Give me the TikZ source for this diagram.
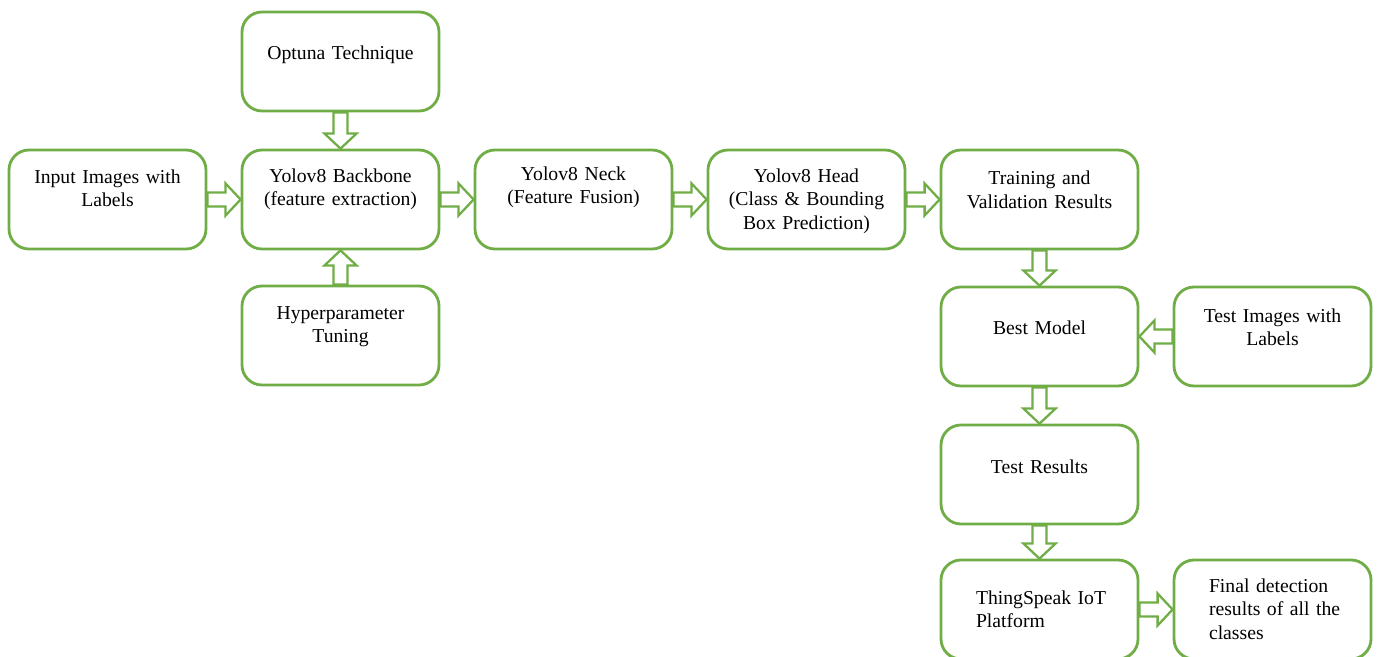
\documentclass[tikz,border=0pt]{standalone}
\usepackage{fontspec}
\setmainfont{Liberation Serif}
\usepackage{tikz}
\usetikzlibrary{calc}
\definecolor{stepgreen}{RGB}{112,173,71}
\tikzset{
  box/.style={draw=stepgreen, line width=1.6pt, rounded corners=0.4cm, text width=3.94cm, align=center, inner xsep=0pt, inner ysep=0pt, text height=#1, text depth={1.98cm-#1}, font=\fontsize{11.2}{13.6}\selectfont},
  box/.default=0.64cm,
  leftbox/.style={box=#1, align=left, text width=2.54cm, inner xsep=0.7cm},
  flow/.style={draw=stepgreen, line width=1.3pt, line join=miter}
}
\newcommand\flowarrow[2]{
  \coordinate (fs) at (#1);
  \coordinate (fe) at (#2);
  \coordinate (fh) at ($(fe)!0.3cm!(fs)$);
  \draw [flow] ($(fs)!0.14cm!90:(fe)$) -- ($(fh)!0.14cm!90:(fe)$) -- ($(fh)!0.32cm!90:(fe)$) -- (fe) -- ($(fh)!0.32cm!-90:(fe)$) -- ($(fh)!0.14cm!-90:(fe)$) -- ($(fs)!0.14cm!-90:(fe)$) -- cycle;
}

\begin{document}
\begin{tikzpicture}[node distance=4.66cm]
\useasboundingbox (0,0) rectangle (27.6,-13.14);
\node [box=0.66cm] (inp) at (2.15,-3.99) {Input Images with\\Labels};
\node [box=0.64cm, right of=inp] (bb) {Yolov8 Backbone\\(feature extraction)};
\node [box=0.96cm, above of=bb, node distance=2.76cm] (opt) {Optuna Technique};
\node [box=0.66cm, below of=bb, node distance=2.72cm] (hp) {Hyperparameter\\Tuning};
\node [box=0.6cm, right of=bb] (neck) {Yolov8 Neck\\(Feature Fusion)};
\node [box=0.64cm, right of=neck] (head) {Yolov8 Head\\(Class \& Bounding\\Box Prediction)};
\node [box=0.7cm, right of=head] (tv) {Training and\\Validation Results};
\node [box=0.94cm, below of=tv, node distance=2.74cm] (best) {Best Model};
\node [box=0.7cm, right of=best] (timg) {Test Images with\\Labels};
\node [box=0.96cm, below of=best, node distance=2.76cm] (tres) {Test Results};
\node [leftbox=0.88cm, below of=tres, node distance=2.7cm] (ts) {ThingSpeak~IoT\\Platform};
\node [leftbox=0.64cm, right of=ts] (fin) {Final~detection\\results~of~all~the\\classes};
\flowarrow{inp.east}{bb.west}
\flowarrow{opt.south}{bb.north}
\flowarrow{hp.north}{bb.south}
\flowarrow{bb.east}{neck.west}
\flowarrow{neck.east}{head.west}
\flowarrow{head.east}{tv.west}
\flowarrow{tv.south}{best.north}
\flowarrow{timg.west}{best.east}
\flowarrow{best.south}{tres.north}
\flowarrow{tres.south}{ts.north}
\flowarrow{ts.east}{fin.west}
\end{tikzpicture}
\end{document}
